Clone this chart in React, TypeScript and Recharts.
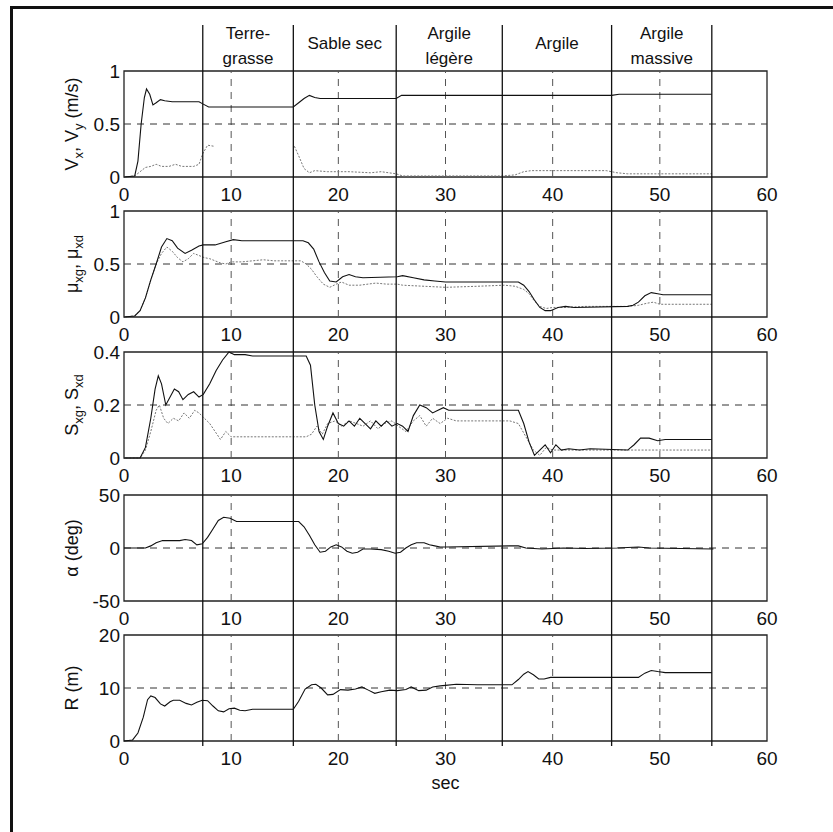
import React from 'react';
import { LineChart, ComposedChart, Line, XAxis, YAxis, ReferenceLine, ReferenceArea } from 'recharts';

// ---------------- DATA ----------------
const timeTicks = [0, 10, 20, 30, 40, 50, 60];
const gridTimes = [10, 20, 30, 40, 50];
const regionBounds = [7.35, 15.8, 25.4, 35.3, 45.5, 54.85];
const regionNames: string[][] = [['Terre-', 'grasse'], ['Sable sec'], ['Argile', 'légère'], ['Argile'], ['Argile', 'massive']];

const vTicks = [0, 0.5, 1];
const muTicks = [0, 0.5, 1];
const sTicks = [0, 0.2, 0.4];
const alphaTicks = [-50, 0, 50];
const rTicks = [0, 10, 20];

type P = [number, number | null];

const vx: P[] = [[0, 0], [1.0, 0.01], [1.3, 0.15], [1.6, 0.5], [1.9, 0.75], [2.1, 0.83], [2.4, 0.78], [2.7, 0.68], [3.0, 0.7], [3.4, 0.73], [3.8, 0.72], [4.5, 0.71], [5.5, 0.71], [6.5, 0.71], [7.0, 0.71], [7.35, 0.69], [7.9, 0.66], [12, 0.66], [15.8, 0.66], [16.3, 0.7], [16.8, 0.74], [17.3, 0.77], [17.8, 0.75], [18.3, 0.74], [20, 0.74], [25.4, 0.74], [25.9, 0.77], [30, 0.77], [35.3, 0.77], [40, 0.77], [45.5, 0.77], [46.2, 0.78], [54.85, 0.78]];
const vy: P[] = [[0, 0], [1.0, 0.01], [1.5, 0.05], [2.0, 0.09], [2.5, 0.1], [3.0, 0.12], [3.5, 0.1], [4.2, 0.1], [4.8, 0.12], [5.4, 0.1], [6.5, 0.1], [7.0, 0.12], [7.35, 0.22], [7.8, 0.3], [8.4, 0.29], [8.6, null], [15.8, null], [15.9, 0.29], [16.3, 0.2], [16.8, 0.08], [17.3, 0.04], [17.8, 0.06], [19, 0.05], [21, 0.05], [23, 0.04], [24, 0.05], [25.4, 0.03], [26, 0.01], [30, 0.01], [35.3, 0.01], [36.5, 0.02], [37.3, 0.05], [38, 0.06], [42, 0.06], [45, 0.06], [46, 0.04], [47, 0.03], [54.85, 0.03]];

const muXg: P[] = [[0, 0], [1, 0.01], [1.5, 0.06], [2, 0.18], [2.5, 0.35], [3, 0.5], [3.5, 0.66], [4, 0.74], [4.5, 0.72], [5, 0.65], [5.7, 0.6], [6.3, 0.63], [7, 0.67], [7.4, 0.68], [8.5, 0.68], [9.5, 0.71], [10.2, 0.73], [11, 0.72], [16.7, 0.72], [17.2, 0.7], [17.7, 0.64], [18.2, 0.52], [18.7, 0.42], [19.2, 0.34], [19.8, 0.33], [20.4, 0.38], [21, 0.4], [21.6, 0.38], [22.3, 0.37], [25.5, 0.38], [26, 0.39], [27, 0.37], [28, 0.35], [29, 0.34], [30, 0.33], [36.8, 0.33], [37.3, 0.3], [37.8, 0.24], [38.3, 0.16], [38.8, 0.09], [39.3, 0.06], [39.8, 0.06], [40.5, 0.09], [41.2, 0.1], [42, 0.09], [47, 0.1], [47.5, 0.11], [48, 0.14], [48.6, 0.2], [49.2, 0.23], [49.8, 0.22], [50.3, 0.21], [54.85, 0.21]];
const muXd: P[] = [[0, 0], [1, 0.01], [1.5, 0.06], [2, 0.18], [2.5, 0.35], [3, 0.5], [3.5, 0.6], [4, 0.66], [4.5, 0.62], [5, 0.56], [5.5, 0.52], [6, 0.55], [6.5, 0.6], [7, 0.58], [7.5, 0.56], [8, 0.55], [8.5, 0.53], [9, 0.51], [9.5, 0.5], [10, 0.52], [11, 0.52], [12, 0.53], [13, 0.54], [14, 0.53], [16.5, 0.53], [17, 0.5], [17.5, 0.45], [18, 0.38], [18.6, 0.31], [19.2, 0.28], [19.8, 0.31], [20.3, 0.33], [21, 0.3], [22, 0.3], [23.5, 0.32], [24.5, 0.31], [25.5, 0.31], [26, 0.3], [28, 0.29], [30, 0.28], [33, 0.29], [35.5, 0.3], [36.5, 0.29], [37.3, 0.26], [37.8, 0.22], [38.3, 0.15], [38.8, 0.1], [39.4, 0.08], [40, 0.09], [41, 0.09], [43, 0.1], [47, 0.1], [48, 0.11], [48.8, 0.13], [49.4, 0.14], [50, 0.12], [54.85, 0.12]];

const sXg: P[] = [[0, 0], [1.5, 0], [2, 0.04], [2.5, 0.15], [2.9, 0.26], [3.2, 0.31], [3.5, 0.28], [3.9, 0.2], [4.3, 0.23], [4.7, 0.26], [5.1, 0.25], [5.5, 0.22], [6, 0.24], [6.5, 0.25], [7, 0.23], [7.4, 0.24], [8, 0.28], [8.6, 0.33], [9.2, 0.37], [9.8, 0.4], [10.3, 0.39], [10.8, 0.39], [11.3, 0.39], [12, 0.385], [17, 0.385], [17.4, 0.35], [17.8, 0.2], [18.2, 0.1], [18.6, 0.07], [19, 0.12], [19.5, 0.17], [20, 0.13], [20.5, 0.12], [21, 0.14], [21.5, 0.12], [22, 0.15], [22.5, 0.13], [23, 0.11], [23.5, 0.14], [24, 0.12], [24.5, 0.14], [25, 0.12], [25.5, 0.13], [26, 0.12], [26.5, 0.1], [27, 0.16], [27.6, 0.2], [28.2, 0.19], [28.8, 0.17], [29.3, 0.18], [29.8, 0.19], [30.3, 0.18], [36.8, 0.18], [37.3, 0.13], [37.8, 0.06], [38.3, 0.01], [38.8, 0.03], [39.3, 0.05], [39.8, 0.02], [40.3, 0.05], [40.8, 0.03], [41.5, 0.035], [42.5, 0.03], [43.5, 0.035], [47, 0.03], [47.6, 0.05], [48.2, 0.075], [49, 0.075], [49.8, 0.065], [50.5, 0.07], [54.85, 0.07]];
const sXd: P[] = [[0, 0], [1.5, 0], [2, 0.03], [2.5, 0.1], [3, 0.18], [3.3, 0.2], [3.7, 0.15], [4.1, 0.13], [4.6, 0.15], [5.1, 0.14], [5.6, 0.17], [6.1, 0.15], [6.6, 0.18], [7, 0.17], [7.5, 0.15], [8, 0.13], [8.5, 0.1], [9, 0.07], [9.5, 0.1], [10, 0.08], [10.5, 0.08], [12, 0.08], [17, 0.08], [17.5, 0.09], [18, 0.12], [18.5, 0.09], [19, 0.13], [19.7, 0.14], [20.3, 0.12], [21, 0.14], [21.7, 0.13], [22.3, 0.12], [23, 0.14], [23.7, 0.11], [24.3, 0.13], [25, 0.14], [25.6, 0.12], [26.3, 0.1], [27, 0.14], [27.6, 0.16], [28.2, 0.12], [28.8, 0.15], [29.5, 0.13], [30.2, 0.15], [31, 0.14], [36, 0.14], [36.8, 0.13], [37.5, 0.08], [38.2, 0.03], [38.8, 0.01], [39.4, 0.04], [40, 0.03], [41, 0.03], [47, 0.03], [54.85, 0.03]];

const alpha: P[] = [[0, 0], [2, 0], [2.5, 2], [3, 5], [3.6, 7], [4.5, 7], [5.2, 7], [5.7, 8], [6.3, 7], [6.8, 3], [7.3, 4], [7.8, 10], [8.3, 18], [8.8, 26], [9.3, 29], [9.9, 28], [10.5, 25], [11, 25], [16.3, 25], [16.8, 20], [17.3, 12], [17.8, 3], [18.3, -4], [18.8, -3], [19.3, 1], [19.8, 3], [20.3, 1], [20.8, -3], [21.3, -5], [21.8, -4], [22.3, -1], [23, -1], [24, -1.5], [24.7, -3], [25.3, -5], [25.8, -4], [26.3, 0], [26.8, 3], [27.3, 5], [28, 5], [28.5, 3], [29, 2], [29.5, 1], [30, 1], [36, 2], [36.8, 2], [37.5, 0], [39, -1], [41, 0], [43, -0.5], [46, 0], [48, 1], [49, 0], [55, -1]];

const radius: P[] = [[0, 0], [0.8, 0.2], [1.3, 1.5], [1.8, 4.5], [2.2, 7.8], [2.5, 8.5], [2.9, 8.2], [3.4, 7], [3.8, 6.6], [4.3, 7.4], [4.6, 7.7], [5.2, 7.7], [5.8, 7.1], [6.3, 6.8], [6.8, 7.3], [7.3, 7.7], [7.8, 7.6], [8.3, 6.6], [8.8, 5.7], [9.3, 5.5], [9.8, 6.1], [10.3, 6.2], [10.8, 5.8], [11.3, 5.7], [12, 6], [15.8, 6], [16.3, 7.5], [16.9, 9.8], [17.5, 10.6], [17.9, 10.7], [18.4, 10], [19, 8.7], [19.5, 8.8], [20.2, 9.7], [20.9, 9.6], [21.6, 9.8], [22.2, 10.2], [22.8, 9.6], [23.4, 9], [24, 9.3], [24.8, 9.6], [25.5, 9.5], [26.3, 9.7], [26.8, 10.2], [27.5, 9.5], [28.2, 9.6], [28.8, 10.2], [29.5, 10.4], [30, 10.5], [31, 10.7], [33, 10.6], [36.2, 10.6], [36.8, 11.6], [37.3, 12.6], [37.7, 13.1], [38.2, 12.5], [38.7, 11.7], [39.2, 11.7], [39.8, 12], [40.5, 12], [48, 12], [48.6, 12.8], [49.2, 13.3], [49.8, 13.1], [50.5, 12.9], [54.85, 12.9]];

// ---------------- LAYOUT ----------------
const FONT = '"Liberation Sans", Arial, Helvetica, sans-serif';
const W = 833;
const PLOT_LEFT = 124;
const PLOT_RIGHT = 767;
const MT = 10;
const PH = 106;
const XH = 30;

type Seg = [string, boolean];

const toData = (pts: P[]) => pts.map(([t, v]) => ({ t, v }));

const makeAxisLabel = (segs: Seg[]) => (props: any) => {
  const vb = props && props.viewBox ? props.viewBox : null;
  const cy = vb && typeof vb.y === 'number' ? vb.y + vb.height / 2 : MT + PH / 2;
  const cx = 72;
  let sub = false;
  const spans = segs.map(([txt, isSub], i) => {
    let dy = 0;
    if (isSub && !sub) dy = 5;
    if (!isSub && sub) dy = -5;
    sub = isSub;
    return (
      <tspan key={i} dy={dy} fontSize={isSub ? 13 : 18}>
        {txt}
      </tspan>
    );
  });
  return (
    <text
      transform={`rotate(-90 ${cx} ${cy})`}
      x={cx}
      y={cy + 6}
      textAnchor="middle"
      fill="#111"
      fontFamily={FONT}
      fontSize={18}
    >
      {spans}
    </text>
  );
};

const secLabel = (props: any) => {
  const vb = props && props.viewBox ? props.viewBox : null;
  const cx = vb && typeof vb.x === 'number' ? vb.x + vb.width / 2 : (PLOT_LEFT + PLOT_RIGHT) / 2;
  const y = vb && typeof vb.y === 'number' ? vb.y + 48 : MT + PH + 48;
  return (
    <text x={cx} y={y} textAnchor="middle" fill="#111" fontFamily={FONT} fontSize={18}>
      sec
    </text>
  );
};

interface PanelProps {
  top: number;
  ticks: number[];
  gridY: number[];
  solid: P[];
  dotted?: P[];
  label: Seg[];
  last?: boolean;
}

function Panel({ top, ticks, gridY, solid, dotted, label, last }: PanelProps) {
  const xh = last ? 60 : XH;
  const h = MT + PH + xh;
  const lo = ticks[0];
  const hi = ticks[ticks.length - 1];
  return (
    <div style={{ position: 'absolute', left: 0, top: top - MT, width: W, height: h }}>
      <LineChart width={W} height={h} margin={{ top: MT, right: W - PLOT_RIGHT, bottom: 0, left: 0 }}>
        <XAxis
          type="number"
          dataKey="t"
          domain={[0, 60]}
          ticks={timeTicks}
          interval={0}
          height={xh}
          tickSize={0}
          tickMargin={11}
          axisLine={false}
          tickLine={false}
          tick={{ fill: '#111', fontSize: 19, fontFamily: FONT }}
          label={last ? secLabel : undefined}
        />
        <YAxis
          type="number"
          domain={[lo, hi]}
          ticks={ticks}
          interval={0}
          width={PLOT_LEFT}
          tickSize={0}
          tickMargin={4}
          axisLine={false}
          tickLine={false}
          tick={{ fill: '#111', fontSize: 19, fontFamily: FONT }}
          label={makeAxisLabel(label)}
        />
        {gridTimes.map((g) => (
          <ReferenceLine key={'gx' + g} x={g} stroke="#555" strokeWidth={1} strokeDasharray="7 6" />
        ))}
        {gridY.map((g) => (
          <ReferenceLine key={'gy' + g} y={g} stroke="#333" strokeWidth={1} strokeDasharray="7 6" />
        ))}
        <ReferenceArea x1={0} x2={60} y1={lo} y2={hi} fill="none" stroke="#222" strokeWidth={1.3} />
        {dotted && (
          <Line
            data={toData(dotted)}
            dataKey="v"
            type="linear"
            stroke="#777"
            strokeWidth={1}
            strokeDasharray="2 1.5"
            dot={false}
            activeDot={false}
            isAnimationActive={false}
          />
        )}
        <Line
          data={toData(solid)}
          dataKey="v"
          type="linear"
          stroke="#111"
          strokeWidth={1.1}
          dot={false}
          activeDot={false}
          isAnimationActive={false}
        />
      </LineChart>
    </div>
  );
}

const OVER_TOP = 25;
const OVER_BOTTOM = 746;

const makeRegionLabel = (lines: string[]) => (props: any) => {
  const vb = props && props.viewBox ? props.viewBox : { x: 0, y: 0, width: 0 };
  const cx = vb.x + vb.width / 2;
  const centers = lines.length === 2 ? [8, 33] : [17.5];
  return (
    <text textAnchor="middle" fill="#111" fontFamily={FONT} fontSize={17}>
      {lines.map((l, i) => (
        <tspan key={i} x={cx} y={vb.y + centers[i] + 6}>
          {l}
        </tspan>
      ))}
    </text>
  );
};

const overlayData = regionBounds.map((t) => ({ t, v: 0.5 }));

function Overlay() {
  const h = OVER_BOTTOM - OVER_TOP;
  return (
    <div style={{ position: 'absolute', left: 0, top: OVER_TOP, width: W, height: h, pointerEvents: 'none' }}>
      <ComposedChart width={W} height={h} margin={{ top: 0, right: W - PLOT_RIGHT, bottom: 0, left: 0 }} data={overlayData}>
        <XAxis type="number" dataKey="t" domain={[0, 60]} ticks={timeTicks} height={0} axisLine={false} tickLine={false} tick={false} />
        <YAxis type="number" domain={[0, 1]} width={PLOT_LEFT} axisLine={false} tickLine={false} tick={false} />
        <Line dataKey="v" stroke="none" dot={false} activeDot={false} isAnimationActive={false} />
        {regionBounds.map((b) => (
          <ReferenceLine key={'rb' + b} x={b} stroke="#111" strokeWidth={1.3} />
        ))}
        {regionNames.map((n, i) => (
          <ReferenceArea
            key={'rn' + i}
            x1={regionBounds[i]}
            x2={regionBounds[i + 1]}
            y1={0}
            y2={1}
            fill="none"
            stroke="none"
            label={makeRegionLabel(n)}
          />
        ))}
      </ComposedChart>
    </div>
  );
}

export default function App() {
  return (
    <div style={{ position: 'absolute', left: 0, top: 0, width: W, height: 832, background: '#fff', overflow: 'hidden' }}>
      <div
        style={{
          position: 'absolute',
          left: 10,
          top: 6,
          width: 823,
          height: 826,
          borderTop: '3px solid #111',
          borderLeft: '3px solid #111',
          boxSizing: 'border-box',
        }}
      />
      <Panel top={71} ticks={vTicks} gridY={[0.5]} solid={vx} dotted={vy} label={[['V', false], ['x', true], [', V', false], ['y', true], [' (m/s)', false]]} />
      <Panel top={211} ticks={muTicks} gridY={[0.5]} solid={muXg} dotted={muXd} label={[['μ', false], ['xg', true], [', μ', false], ['xd', true]]} />
      <Panel top={352} ticks={sTicks} gridY={[0.2]} solid={sXg} dotted={sXd} label={[['S', false], ['xg', true], [', S', false], ['xd', true]]} />
      <Panel top={495} ticks={alphaTicks} gridY={[0]} solid={alpha} label={[['α (deg)', false]]} />
      <Panel top={635} ticks={rTicks} gridY={[10]} solid={radius} label={[['R (m)', false]]} last />
      <Overlay />
    </div>
  );
}
